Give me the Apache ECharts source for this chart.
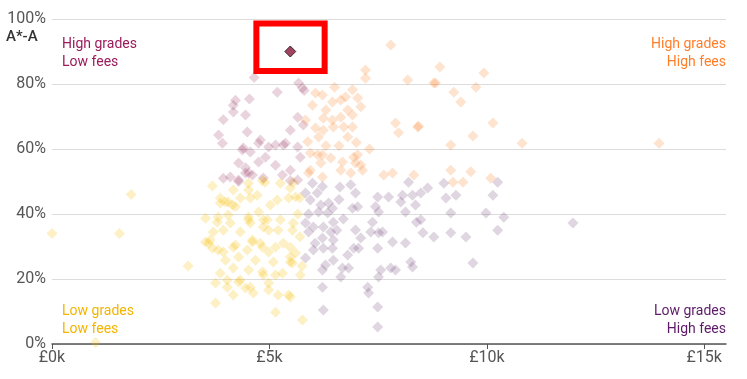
<!DOCTYPE html>
<html>
<head>
<meta charset="utf-8">
<script src="https://cdn.jsdelivr.net/npm/echarts@6/dist/echarts.min.js"></script>
<style>
html,body{margin:0;padding:0;background:#fff;}
#chart{width:747px;height:379px;}
</style>
</head>
<body>
<div id="chart"></div>
<script>
// Fees (£k) vs share of A*-A grades (%)
const xTicks = [0, 5, 10, 15];
const yTicks = [0, 20, 40, 60, 80, 100];

const lowGradesLowFees = [
[0.0,34],[1.55,34],[1.82,46],[1.0,0.5],[3.13,24],
[3.69,48.6],[3.87,43.4],[4.15,42.8],[3.53,38.7],[3.80,37.5],[3.71,34.5],[3.53,31.4],[3.69,29.5],[3.94,28.3],[4.22,30.5],
[4.61,31.4],[4.29,26.8],[3.87,21.8],[4.17,23.4],[3.76,18.8],[4.33,19.7],[4.17,15.1],[3.76,12.6],[4.63,15.7],[5.14,9.8],
[4.56,37.2],[4.86,36],[5.2,35],[4.75,40.6],[5.02,42.8],[5.18,44.3],[5.48,48],[4.17,47.4],[4.56,44.9],[4.79,31],
[4.98,28.3],[5.32,31],[5.48,26.8],[4.52,22.8],[4.86,21.2],[5.14,21.2],[4.56,17.5],[4.98,16.6],[5.2,15.1],[5.44,15.1],
[4.03,19.7],[5.76,7.4],[3.6,31],[3.82,39],[5.55,37.2],[5.71,21.2],[5.48,14.5],[5.48,25.2],
[4.52,47.4],[4.9,49.8],[5.25,49.5],[5.55,49.8],[3.98,43.7],[4.33,44.9],[4.72,45.8],[5.44,44.9],[4.1,37.2],[4.52,38.2],
[4.86,38.2],[5.25,38.2],[3.94,35],[4.33,34.5],[4.61,32],[4.98,35],[5.53,35],[3.64,32],[4.17,29.8],[4.49,28.9],
[4.84,29.8],[5.14,29.8],[5.48,29.8],[5.65,40],[5.7,33],[5.6,28],[5.75,24],[5.7,45],
[4.52,49.5],[4.84,50.3],[3.87,44.9],[4.05,43.7],[4.22,42.2],[5.6,45.2],[4.05,39.7],[4.52,39.1],[4.95,38.2],[3.82,28.9],
[3.99,25.8],[4.68,25.8],[5.09,25.2],[5.53,24.9],[4.84,22.2],[5.30,21.8],[4.03,17.5],[4.29,19.1],[4.98,18.8],[4.45,17.2]
];

const highGradesLowFees = [
[4.65,82],[5.18,77.5],[4.22,75],[4.17,73.5],[4.54,75.4],[4.45,70.5],[3.94,69],[4.17,71.4],[4.49,65.2],[3.83,64.3],
[3.92,61.8],[4.79,62.8],[4.98,60.6],[4.40,60.3],[4.56,59.1],[5.32,61.2],[5.48,65.8],[4.29,55.7],[4.75,56],[5.14,55],
[4.45,54.2],[4.52,52.6],[3.94,51],[4.10,51.4],[4.29,50],[4.86,51.1],[5.30,52],[5.48,50.2],[4.91,57.5],[5.67,80.3],
[5.76,78.8],[5.65,69.8],[5.78,67.4],[5.8,78],[5.65,60.6],[5.71,57.5],[4.38,59.7],[4.75,61.8],[5.14,61.2],[5.37,61.8],
[4.45,52.6],[4.61,52],[4.29,50.5],[5.48,53.5],[5.65,50.5]
];

const highGradesHighFees = [
[7.79,92],[7.21,84.3],[7.21,81.8],[8.18,81.2],[6.91,78.2],[7.03,75.7],[6.75,76],[6.64,75.1],[6.45,74.5],[6.22,76.6],
[6.06,77.2],[5.99,73.5],[6.91,70.5],[6.64,69.8],[6.45,68.9],[6.24,69.5],[5.83,68.9],[6.47,66.8],[6.24,65.8],[6.06,66.5],
[6.13,63.7],[6.71,66.8],[6.91,66.8],[6.80,63.7],[5.88,62.2],[7.90,68],[7.97,65],[8.41,66.8],[5.94,58.8],[6.22,58.2],
[6.41,57.2],[7.03,58.2],[6.68,56],[6.98,55.7],[6.18,55.7],[5.94,53.5],[6.64,53.5],[6.87,52.6],[7.63,52],[7.83,52.6],
[8.32,52],[7.14,53.5],[8.78,80.3],[8.92,85.2],[8.82,80.3],[9.24,77.5],[9.40,74.5],[9.75,79],[9.93,83.4],[8.43,67],
[9.68,64],[10.14,68],[9.17,61.2],[10.81,61.8],[13.96,61.8],[9.17,53.5],[9.63,53],[9.22,49.8],[9.45,49.8],[10.09,51],
[6.11,58.2],[6.94,57.5],[7.10,55.1],[5.90,52.6],[6.22,51.4],[6.5,79],[6.8,72],[7.1,73],[6.3,72],[7.0,62],
[6.6,61],[6.3,61],[7.3,60]
];

const lowGradesHighFees = [
[5.99,49.5],[6.22,48.5],[6.62,48.3],[6.87,49],[6.98,46.5],[5.83,46.5],[5.94,44.3],[6.18,42.8],[6.36,43.4],[6.13,40.6],
[6.34,40.3],[6.45,41.8],[5.90,34.5],[5.83,37.2],[6.01,36],[6.24,36],[6.41,34.5],[6.47,32],[6.22,32.6],[6.01,28.9],
[6.24,29.5],[5.83,26.5],[6.47,25.8],[6.29,24.3],[6.80,27.4],[6.68,23.4],[6.82,23.4],[6.64,20.6],[6.22,22.8],[6.22,17.5],
[6.24,10.5],[6.91,41.8],[7.03,42.2],[6.98,35.1],[7.10,32.6],[7.05,29.5],[7.33,34.5],[7.51,34.2],[7.44,42.2],[7.51,40.6],
[7.37,37.5],[7.49,29.5],[7.26,17.5],[7.28,15.7],[7.51,20.6],[7.49,11.4],[7.49,5.2],[7.74,45.2],[7.49,45.2],[8.13,40.6],
[8.06,45.8],[8.29,45.8],[8.48,46.5],[8.64,48],[8.48,38.2],[8.53,34.2],[8.13,31.1],[7.83,31.4],[7.79,23.4],[7.90,22.8],
[8.25,25.2],[8.29,23.7],[8.78,32.9],[9.06,44.9],[9.29,45.8],[10.14,45.8],[9.17,40.3],[9.98,40.3],[10.39,39],[11.98,37.2],
[7.60,34.5],[9.17,34.2],[9.52,32.9],[10.25,35],[7.56,22.8],[9.68,24.9],[9.01,49.5],[10.25,49.8],[8.02,43.7],[8.20,49.8],
[8.36,42.8],[6.47,37.5],[8.38,37.5],[6.45,29.5],[6.94,29.5],[5.9,40],[6.1,46.5],[6.6,44.5],[6.7,38.5],[6.55,35],[6.05,31]
];

const highlighted = [[5.48, 90]];
const highlightBox = [[4.70, 98.6], [6.27, 84.0]];

const fontFam = "Roboto, 'Liberation Sans', sans-serif";

function scatter(name, data, color, opacity) {
  return {
    name: name, type: 'scatter', data: data, symbol: 'diamond', symbolSize: 11,
    itemStyle: { color: color, opacity: opacity },
    emphasis: { disabled: true }, silent: true
  };
}

const chart = echarts.init(document.getElementById('chart'), null, { renderer: 'canvas' });
chart.setOption({
  animation: false,
  backgroundColor: '#fff',
  grid: { left: 52, right: 21, top: 19, bottom: 35, containLabel: false },
  xAxis: {
    type: 'value', min: 0, max: 15.5,
    axisLine: { show: true, lineStyle: { color: '#555', width: 1.5 } },
    axisTick: { show: true, length: 5, lineStyle: { color: '#555', width: 1 }, customValues: xTicks },
    axisLabel: { customValues: xTicks, formatter: v => '£' + v + 'k', color: '#555', fontSize: 16, fontFamily: fontFam, margin: 6 },
    splitLine: { show: false }
  },
  yAxis: {
    type: 'value', min: 0, max: 100, interval: 20,
    axisLine: { show: false }, axisTick: { show: false },
    axisLabel: { formatter: v => v + '%', color: '#555', fontSize: 16, fontFamily: fontFam, margin: 6, customValues: yTicks },
    splitLine: { show: true, lineStyle: { color: '#dcdcdc', width: 1 } }
  },
  graphic: [
    { type: 'text', left: 6, top: 30, style: { text: 'A*-A', fill: '#333', font: "500 15px " + fontFam } },
    { type: 'text', left: 62, top: 35, style: { text: 'High grades\nLow fees', fill: '#9b1b5a', font: "14px " + fontFam, lineHeight: 18 } },
    { type: 'text', x: 726, y: 35, style: { text: 'High grades\nHigh fees', fill: '#ff7e29', font: "14px " + fontFam, lineHeight: 18, align: 'right', verticalAlign: 'top' } },
    { type: 'text', left: 62, top: 302, style: { text: 'Low grades\nLow fees', fill: '#f5b400', font: "14px " + fontFam, lineHeight: 18 } },
    { type: 'text', x: 726, y: 302, style: { text: 'Low grades\nHigh fees', fill: '#5c1a68', font: "14px " + fontFam, lineHeight: 18, align: 'right', verticalAlign: 'top' } }
  ],
  series: [
    scatter('Low grades, low fees', lowGradesLowFees, '#f5c000', 0.23),
    scatter('High grades, low fees', highGradesLowFees, '#8b1a4a', 0.19),
    scatter('High grades, high fees', highGradesHighFees, '#f97a1e', 0.21),
    scatter('Low grades, high fees', lowGradesHighFees, '#5c2466', 0.19),
    {
      name: 'Highlighted', type: 'scatter', data: highlighted, symbol: 'diamond', symbolSize: 11,
      itemStyle: { color: '#8b1538', borderColor: '#111', borderWidth: 1 },
      silent: true, z: 5,
      markArea: {
        silent: true,
        itemStyle: { color: 'rgba(0,0,0,0)', borderColor: '#ff0000', borderWidth: 6 },
        data: [[{ coord: highlightBox[0] }, { coord: highlightBox[1] }]]
      }
    }
  ]
});
</script>
</body>
</html>
